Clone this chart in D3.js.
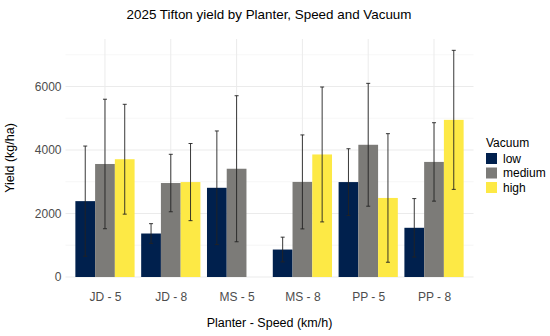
<!DOCTYPE html>
<html>
<head>
<meta charset="utf-8">
<script src="https://cdn.jsdelivr.net/npm/d3@7"></script>
<style>
  body { margin: 0; background: #fff; }
  text { font-family: "Liberation Sans", Arial, sans-serif; }
</style>
</head>
<body>
<div id="chart"></div>
<script>
// data (mean and sd, kg/ha)
const groups = ["JD - 5", "JD - 8", "MS - 5", "MS - 8", "PP - 5", "PP - 8"];
const vacuums = ["low", "medium", "high"];
const lowMean    = [2390, 1370, 2810,  865, 2990, 1550];
const lowSd      = [1735,  310, 1790,  390, 1050,  920];
const mediumMean = [3560, 2960, 3410, 2995, 4165, 3625];
const mediumSd   = [2040,  905, 2300, 1480, 1935, 1235];
const highMean   = [3710, 2990, null, 3860, 2490, 4950];
const highSd     = [1730, 1215, null, 2125, 2025, 2190];
const yTicks = [0, 2000, 4000, 6000];
const yMinor = [1000, 3000, 5000, 7000];

const colors = { low: "#00204d", medium: "#7c7b78", high: "#fde945" };

const means = { low: lowMean, medium: mediumMean, high: highMean };
const sds = { low: lowSd, medium: mediumSd, high: highSd };
const rows = [];
groups.forEach((g, i) => {
  vacuums.forEach(v => {
    if (means[v][i] != null) rows.push({ group: g, vac: v, mean: means[v][i], sd: sds[v][i] });
  });
});

var W = 550, H = 336;
var margin = { top: 39, right: 76.5, bottom: 59, left: 65.5 };
var width = W - margin.left - margin.right,
    height = H - margin.top - margin.bottom;

var svg = d3.select("#chart").append("svg")
    .attr("width", W)
    .attr("height", H);

var g = svg.append("g")
    .attr("transform", "translate(" + margin.left + "," + margin.top + ")");

// x scale: ggplot discrete, 0.6 expansion each side
var x = d3.scalePoint()
  .domain(groups)
  .range([0, width])
  .padding(0.6);
var step = x.step();
var xSub = d3.scaleBand()
  .domain(vacuums)
  .range([-0.45 * step, 0.45 * step]);

var yMax = d3.max(rows, d => d.mean + d.sd) * 1.05;
var y = d3.scaleLinear()
  .domain([0, yMax])
  .range([height, 0]);

// grid
g.append("g").selectAll("line")
  .data(yMinor).enter().append("line")
    .attr("x1", 0).attr("x2", width)
    .attr("y1", d => y(d)).attr("y2", d => y(d))
    .attr("stroke", "#f0f0f0").attr("stroke-width", 0.6);
g.append("g").selectAll("line")
  .data(yTicks).enter().append("line")
    .attr("x1", 0).attr("x2", width)
    .attr("y1", d => y(d)).attr("y2", d => y(d))
    .attr("stroke", "#ebebeb").attr("stroke-width", 1);
g.append("g").selectAll("line")
  .data(groups).enter().append("line")
    .attr("x1", d => x(d)).attr("x2", d => x(d))
    .attr("y1", 0).attr("y2", height)
    .attr("stroke", "#ebebeb").attr("stroke-width", 1);

// bars
g.append("g").selectAll("rect")
  .data(rows).enter().append("rect")
    .attr("x", d => x(d.group) + xSub(d.vac))
    .attr("width", xSub.bandwidth())
    .attr("y", d => y(d.mean))
    .attr("height", d => y(0) - y(d.mean))
    .attr("fill", d => colors[d.vac]);

// error bars
var eb = g.append("g").selectAll("g")
  .data(rows).enter().append("g")
    .attr("stroke", "#222").attr("stroke-width", 0.9);
var cx = d => x(d.group) + xSub(d.vac) + xSub.bandwidth() / 2;
eb.append("line")
  .attr("x1", cx).attr("x2", cx)
  .attr("y1", d => y(d.mean + d.sd)).attr("y2", d => y(d.mean - d.sd));
eb.append("line")
  .attr("x1", d => cx(d) - 2).attr("x2", d => cx(d) + 2)
  .attr("y1", d => y(d.mean + d.sd)).attr("y2", d => y(d.mean + d.sd));
eb.append("line")
  .attr("x1", d => cx(d) - 2).attr("x2", d => cx(d) + 2)
  .attr("y1", d => y(d.mean - d.sd)).attr("y2", d => y(d.mean - d.sd));

// axes (no domain lines, theme_minimal)
var xAxis = g.append("g")
  .attr("transform", "translate(0," + height + ")")
  .call(d3.axisBottom(x).tickSize(0).tickPadding(15));
xAxis.select(".domain").remove();
xAxis.selectAll("text").attr("fill", "#4d4d4d").style("font-size", "12px");

var yAxis = g.append("g")
  .call(d3.axisLeft(y).tickValues(yTicks).tickFormat(d3.format("d")).tickSize(0).tickPadding(4));
yAxis.select(".domain").remove();
yAxis.selectAll("text").attr("fill", "#4d4d4d").style("font-size", "12px");

// titles
svg.append("text")
  .attr("x", 269).attr("y", 18.5)
  .attr("text-anchor", "middle")
  .style("font-size", "13.4px")
  .attr("fill", "#000")
  .text("2025 Tifton yield by Planter, Speed and Vacuum");

svg.append("text")
  .attr("x", margin.left + width / 2).attr("y", 327)
  .attr("text-anchor", "middle")
  .style("font-size", "12.5px")
  .text("Planter - Speed (km/h)");

svg.append("text")
  .attr("transform", "translate(14," + (margin.top + height / 2) + ") rotate(-90)")
  .attr("text-anchor", "middle")
  .style("font-size", "12.5px")
  .text("Yield (kg/ha)");

// legend
var legend = svg.append("g").attr("transform", "translate(486,0)");
legend.append("text")
  .attr("x", 0).attr("y", 147)
  .style("font-size", "12px")
  .text("Vacuum");
var li = legend.selectAll(".item")
  .data(vacuums).enter().append("g")
    .attr("transform", (d, i) => "translate(0," + (153 + i * 14.5) + ")");
li.append("rect")
  .attr("width", 11).attr("height", 11)
  .attr("fill", d => colors[d]);
li.append("text")
  .attr("x", 17).attr("y", 9.5)
  .style("font-size", "12px")
  .text(d => d);
</script>
</body>
</html>
